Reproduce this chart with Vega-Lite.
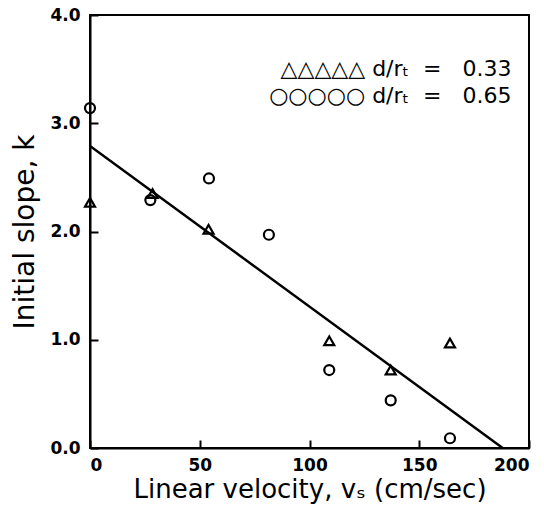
{
  "$schema": "https://vega.github.io/schema/vega-lite/v6.json",
  "width": 439,
  "height": 433,
  "autosize": {"type": "none"},
  "padding": {"left": 90, "top": 15, "right": 15, "bottom": 58},
  "config": {
    "view": {"stroke": "black", "strokeWidth": 2},
    "font": "DejaVu Sans",
    "axis": {
      "domainColor": "black", "domainWidth": 2, "tickColor": "black", "tickWidth": 2,
      "tickSize": -8, "grid": false, "labelColor": "black", "titleColor": "black",
      "labelFont": "DejaVu Sans", "labelFontWeight": "bold", "labelFontSize": 17,
      "titleFont": "DejaVu Sans", "titleFontWeight": "normal"
    }
  },
  "datasets": {
    "pts": [
      {"v": 0, "k": 2.27, "series": "d/rt = 0.33"},
      {"v": 28.5, "k": 2.35, "series": "d/rt = 0.33"},
      {"v": 54, "k": 2.02, "series": "d/rt = 0.33"},
      {"v": 109, "k": 0.99, "series": "d/rt = 0.33"},
      {"v": 137, "k": 0.72, "series": "d/rt = 0.33"},
      {"v": 164, "k": 0.97, "series": "d/rt = 0.33"},
      {"v": 0, "k": 3.14, "series": "d/rt = 0.65"},
      {"v": 27.5, "k": 2.29, "series": "d/rt = 0.65"},
      {"v": 54.2, "k": 2.49, "series": "d/rt = 0.65"},
      {"v": 81.5, "k": 1.97, "series": "d/rt = 0.65"},
      {"v": 109, "k": 0.72, "series": "d/rt = 0.65"},
      {"v": 137, "k": 0.44, "series": "d/rt = 0.65"},
      {"v": 164, "k": 0.09, "series": "d/rt = 0.65"}
    ],
    "fit": [
      {"v": 0, "k": 2.79},
      {"v": 188, "k": 0}
    ],
    "legend": [
      {"label": "△△△△△ d/rₜ\u00a0\u00a0=\u00a0\u00a0 0.33", "v": 192, "k": 3.5},
      {"label": "○○○○○ d/rₜ\u00a0\u00a0=\u00a0\u00a0 0.65", "v": 192, "k": 3.25}
    ]
  },
  "layer": [
    {
      "data": {"name": "fit"},
      "mark": {"type": "line", "color": "black", "strokeWidth": 2.5, "clip": true},
      "encoding": {
        "x": {"field": "v", "type": "quantitative", "scale": {"domain": [0, 200], "nice": false},
              "axis": {"values": [0, 50, 100, 150, 200], "title": "Linear velocity, vₛ (cm/sec)", "labelPadding": 17, "titlePadding": 3, "titleFontSize": 26}},
        "y": {"field": "k", "type": "quantitative", "scale": {"domain": [0, 4], "nice": false},
              "axis": {"values": [0, 1, 2, 3, 4], "format": ".1f", "title": "Initial slope, k", "labelPadding": 18, "titlePadding": 10, "titleFontSize": 28}}
      }
    },
    {
      "data": {"name": "pts"},
      "mark": {"type": "point", "filled": false, "strokeWidth": 2.2, "color": "black", "size": 100, "opacity": 1},
      "encoding": {
        "x": {"field": "v", "type": "quantitative"},
        "y": {"field": "k", "type": "quantitative"},
        "shape": {"field": "series", "type": "nominal", "scale": {"domain": ["d/rt = 0.33", "d/rt = 0.65"], "range": ["triangle-up", "circle"]}, "legend": null}
      }
    },
    {
      "data": {"name": "legend"},
      "mark": {"type": "text", "align": "right", "baseline": "middle", "fontSize": 22, "color": "black"},
      "encoding": {
        "x": {"field": "v", "type": "quantitative"},
        "y": {"field": "k", "type": "quantitative"},
        "text": {"field": "label"}
      }
    }
  ]
}
